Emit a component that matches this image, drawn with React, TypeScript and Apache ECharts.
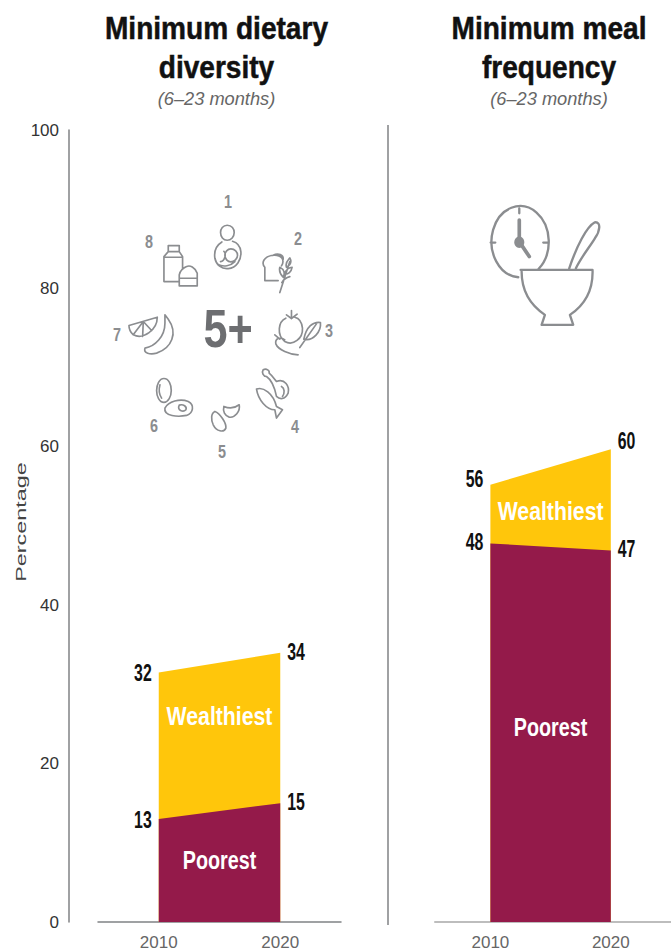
import React, { useEffect, useRef } from "react";
import * as echarts from "echarts";

const years = [2010, 2020];
const yTicks = [0, 20, 40, 60, 80, 100];
const dietPoorest = [13, 15];
const dietWealthiest = [31.5, 34];
const dietPoorestLabels = ["13", "15"];
const dietWealthiestLabels = ["32", "34"];
const mealPoorest = [47.8, 46.9];
const mealWealthiest = [55.2, 59.7];
const mealPoorestLabels = ["48", "47"];
const mealWealthiestLabels = ["56", "60"];
const titleLines = [
  ["Minimum dietary", "diversity"],
  ["Minimum meal", "frequency"],
];
const subtitle = "(6–23 months)";

const FONT = "'Liberation Sans', Arial, sans-serif";
const MAROON = "#941a4a";
const YELLOW = "#ffc60b";
const ICON = "#8b8d90";

const foodIcons: Record<string, string> = {
  iconMother:
    "M382 136 C396 136 403 147 403 158 C403 170 394 181 382 181 C370 181 362 170 362 158 C362 147 369 136 382 136 Z M366 186 C350 196 342 215 345 235 C349 255 365 268 385 266 C410 264 425 240 423 215 C421 198 412 188 398 184 M393 207 C405 207 413 216 413 226 C413 237 403 246 393 246 C383 246 375 236 375 226 C375 216 383 207 393 207 Z M372 214 C380 222 375 243 362 245 M354 254 C372 262 392 258 405 245",
  iconGrain:
    "M495 302 L495 262 C484 250 490 230 520 226 C545 224 556 240 545 258 M495 302 L535 302 M520 226 C535 218 552 225 550 238 M540 338 L570 245 M560 262 C555 248 565 240 570 234 C576 245 572 255 560 262 M550 292 C540 282 538 270 540 262 C552 268 556 280 550 292 M553 282 C560 268 570 262 577 262 C575 275 565 285 553 282 M546 308 C552 298 562 292 570 290",
  iconVeg:
    "M558 415 C535 425 530 465 555 485 C580 500 610 475 608 445 C606 425 598 415 585 412 M560 405 L575 416 L592 403 M575 416 L575 392 M600 503 L650 432 M612 478 C620 440 640 425 662 428 C665 455 640 485 612 478 M595 525 C570 525 535 510 528 492 C525 478 540 468 555 480 M540 478 L525 465",
  iconProtein:
    "M470 628 C490 620 520 640 530 680 L548 690 L530 715 L525 690 C500 690 475 660 470 628 Z M490 570 C500 565 510 572 508 580 C520 590 525 600 530 605 C555 595 570 620 565 640 C555 660 540 660 530 650 C525 625 515 600 500 590 C490 590 485 578 490 570 Z M545 620 C555 625 555 640 548 650",
  iconBeans:
    "M345 695 C360 700 380 730 378 745 C372 760 350 755 340 735 C333 720 333 700 345 695 Z M372 680 C390 688 405 685 418 675 C422 695 405 715 388 712 C375 708 368 695 372 680 Z",
  iconEgg:
    "M192 596 C207 596 214 615 214 632 C214 650 205 668 192 668 C178 668 170 650 170 632 C170 615 178 596 192 596 Z M180 615 C176 630 178 645 185 655 M195 685 C205 665 240 655 265 665 C285 675 280 700 260 707 C235 712 190 710 195 685 Z M238 676 C250 672 262 680 258 690 C250 698 230 692 238 676 Z",
  iconFruit:
    "M87 437 L172 412 C172 450 130 480 100 465 C92 458 87 447 87 437 Z M130 425 L128 470 M130 425 L102 462 M130 425 L155 452 M195 405 L205 418 C235 460 215 505 170 520 C150 525 130 520 135 505 C165 500 195 470 195 430 Z",
  iconDairy:
    "M192 305 L192 230 L205 215 L205 197 L238 197 L238 215 L248 230 L248 268 M192 305 L235 305 M192 232 L248 232 M205 215 L238 215 M238 318 L292 318 L292 280 C285 262 270 255 260 260 C248 265 240 275 238 285 Z M238 295 L292 295",
};
const mealIcon =
  "M205 238 A86 107 0 1 0 145 262 M148 55 L148 70 M62 158 L76 158 M220 158 L235 158 M155 245 C155 300 180 345 225 375 L215 405 L310 405 L300 375 C345 345 370 300 368 240 L152 240 M298 235 C320 170 350 110 375 97 C395 95 390 125 375 145 C360 170 335 200 318 235";
const clockHands = "M148 90 L148 155 L178 200";

Object.entries({ ...foodIcons, iconMeal: mealIcon, iconHands: clockHands }).forEach(([name, d]) => {
  echarts.graphic.registerShape(name, echarts.graphic.extendPath(d, {}));
});

const foodNumbers: [string, number, number][] = [
  ["1", 228, 201],
  ["2", 298, 238],
  ["3", 329, 330],
  ["4", 295, 426],
  ["5", 222, 451],
  ["6", 154, 425],
  ["7", 117, 334],
  ["8", 149, 241],
];

function bandSeries(idx: number, name: string, values: number[], color: string) {
  return {
    type: "line",
    name,
    xAxisIndex: idx,
    yAxisIndex: idx,
    showSymbol: false,
    silent: true,
    lineStyle: { width: 0 },
    itemStyle: { color },
    areaStyle: { color, opacity: 1 },
    data: years.map((y, i) => [y, values[i]]),
  };
}

// Condensed text placed through the axes' scales; no condensed font is installed, so it is squeezed.
function valueTexts(idx: number, values: number[], labels: string[], dys: number[]) {
  return {
    type: "custom",
    xAxisIndex: idx,
    yAxisIndex: idx,
    silent: true,
    clip: false,
    z: 6,
    data: years.map((y, i) => [y, values[i]]),
    renderItem: (params: any, api: any) => {
      const i = params.dataIndex;
      const c = api.coord([api.value(0), api.value(1)]);
      return {
        type: "text",
        x: c[0] + (i === 0 ? -7 : 7),
        y: c[1] + dys[i],
        scaleX: 0.66,
        style: {
          text: labels[i],
          fill: "#111",
          font: `bold 24px ${FONT}`,
          align: i === 0 ? "right" : "left",
          verticalAlign: "middle",
        },
      };
    },
  };
}

function nameText(idx: number, text: string, y: number, squeeze: number) {
  return {
    type: "custom",
    xAxisIndex: idx,
    yAxisIndex: idx,
    silent: true,
    z: 6,
    data: [[(years[0] + years[1]) / 2, y]],
    renderItem: (_p: any, api: any) => {
      const c = api.coord([api.value(0), api.value(1)]);
      return {
        type: "text",
        x: c[0],
        y: c[1],
        scaleX: squeeze,
        style: {
          text,
          fill: "#fff",
          font: `bold 25px ${FONT}`,
          align: "center",
          verticalAlign: "middle",
        },
      };
    },
  };
}

function xAxis(gridIndex: number, min: number, color: string, width: number) {
  return {
    type: "value",
    gridIndex,
    min,
    max: 2025,
    splitLine: { show: false },
    axisTick: { show: false },
    axisLine: { show: true, onZero: false, lineStyle: { color, width } },
    axisLabel: {
      customValues: years,
      formatter: (v: number) => String(v),
      color: "#666",
      fontFamily: FONT,
      fontSize: 17,
      margin: 12,
    },
  };
}

function titleGraphics(lines: string[], cx: number) {
  const line = (text: string, y: number) => ({
    type: "text",
    x: cx,
    y,
    scaleX: 0.906,
    style: {
      text,
      fill: "#111",
      stroke: "#111",
      lineWidth: 0.5,
      font: `bold 31px ${FONT}`,
      align: "center",
      verticalAlign: "middle",
    },
  });
  return [
    line(lines[0], 28),
    line(lines[1], 67),
    {
      type: "text",
      x: cx,
      y: 98,
      scaleX: 0.96,
      style: {
        text: subtitle,
        fill: "#666",
        font: `italic 19px ${FONT}`,
        align: "center",
        verticalAlign: "middle",
      },
    },
  ];
}

export default function App() {
  const ref = useRef<HTMLDivElement>(null);
  useEffect(() => {
    document.body.style.margin = "0";
    const chart = echarts.init(ref.current!, undefined, { renderer: "svg" });
    const iconStyle = { fill: "none", stroke: ICON, lineWidth: 5, lineJoin: "round", lineCap: "round" };
    chart.setOption({
      animation: false,
      backgroundColor: "#fff",
      grid: [
        { left: 98, width: 243, top: 130, height: 792 },
        { left: 435, width: 237, top: 130, height: 792 },
      ],
      xAxis: [xAxis(0, 2005, "#808285", 1.5), xAxis(1, 2005.4, "#bdbdbd", 2)],
      yAxis: [
        {
          type: "value",
          gridIndex: 0,
          min: yTicks[0],
          max: yTicks[yTicks.length - 1],
          interval: 20,
          offset: 29,
          splitLine: { show: false },
          axisTick: { show: false },
          axisLine: { show: true, lineStyle: { color: "#808285", width: 1.5 } },
          axisLabel: { color: "#333", fontFamily: FONT, fontSize: 17, margin: 10 },
        },
        { type: "value", gridIndex: 1, min: 0, max: 100, show: false },
      ],
      series: [
        bandSeries(0, "Wealthiest", dietWealthiest, YELLOW),
        bandSeries(0, "Poorest", dietPoorest, MAROON),
        bandSeries(1, "Wealthiest", mealWealthiest, YELLOW),
        bandSeries(1, "Poorest", mealPoorest, MAROON),
        valueTexts(0, dietWealthiest, dietWealthiestLabels, [0, -1]),
        valueTexts(0, dietPoorest, dietPoorestLabels, [1, -1]),
        valueTexts(1, mealWealthiest, mealWealthiestLabels, [-6, -8]),
        valueTexts(1, mealPoorest, mealPoorestLabels, [-2, -2]),
        nameText(0, "Wealthiest", 25.9, 0.85),
        nameText(0, "Poorest", 7.8, 0.79),
        nameText(1, "Wealthiest", 51.8, 0.85),
        nameText(1, "Poorest", 24.5, 0.79),
      ],
      graphic: [
        ...titleGraphics(titleLines[0], 216.5),
        ...titleGraphics(titleLines[1], 549),
        { type: "line", shape: { x1: 388, y1: 125, x2: 388, y2: 925 }, style: { stroke: "#808285", lineWidth: 1.5 } },
        {
          type: "text",
          x: 21,
          y: 522,
          rotation: Math.PI / 2,
          scaleX: 1.67,
          style: {
            text: "Percentage",
            fill: "#444",
            font: "14px 'Liberation Sans', sans-serif",
            align: "center",
            verticalAlign: "middle",
          },
        },
        {
          type: "group",
          x: 100,
          y: 180,
          scaleX: 1 / 3,
          scaleY: 1 / 3,
          children: Object.keys(foodIcons).map((type) => ({ type, style: iconStyle })),
        },
        {
          type: "group",
          x: 470,
          y: 190,
          scaleX: 1 / 3,
          scaleY: 1 / 3,
          children: [
            { type: "iconMeal", style: { ...iconStyle, lineWidth: 7 } },
            { type: "iconHands", style: { ...iconStyle, lineWidth: 11 } },
            { type: "ellipse", shape: { cx: 148, cy: 157, rx: 15, ry: 17 }, style: { fill: ICON } },
          ],
        },
        {
          type: "text",
          x: 228,
          y: 328,
          scaleX: 0.8,
          style: {
            text: "5+",
            fill: "#6d6e71",
            font: `bold 54px ${FONT}`,
            align: "center",
            verticalAlign: "middle",
          },
        },
        ...foodNumbers.map(([text, x, y]) => ({
          type: "text",
          x,
          y,
          scaleX: 0.8,
          style: {
            text,
            fill: ICON,
            font: `bold 18px ${FONT}`,
            align: "center",
            verticalAlign: "middle",
          },
        })),
      ],
    });
    return () => chart.dispose();
  }, []);
  return <div ref={ref} style={{ width: 671, height: 952 }} />;
}
